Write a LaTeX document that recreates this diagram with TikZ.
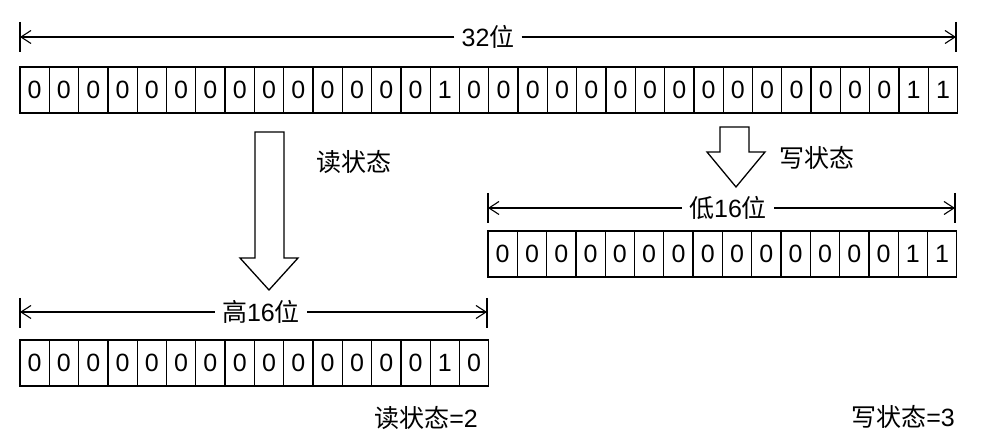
\documentclass[tikz,border=0pt]{standalone}
\usepackage{fontspec}
\setmainfont{Liberation Sans}
\newfontfamily\cjk{Noto Sans CJK SC}
\usetikzlibrary{arrows.meta}
\begin{document}
\begin{tikzpicture}[x=1pt,y=-1pt,
  cell/.style={draw,line width=1.3pt,minimum width=29.3pt,minimum height=46pt,inner sep=0pt,
    font=\fontsize{25}{28}\selectfont},
  lbl/.style={inner sep=7pt,font=\fontsize{25}{28}\selectfont},
  dim/.style={line width=1.1pt,-{Straight Barb[length=10pt,width=13pt,line width=1.1pt]}},
  tick/.style={line width=1.3pt},
  bigarrow/.style={draw,line width=1.3pt,fill=white,line join=miter}]
\useasboundingbox (0,0) rectangle (986,443);
% top row
\foreach \b [count=\i from 0] in {0,0,0,0,0,0,0,0,0,0,0,0,0,0,1,0,0,0,0,0,0,0,0,0,0,0,0,0,0,0,1,1}{
  \pgfmathsetmacro\xx{20+29.3*\i+14.65}
  \node[cell] (a\i) at (\xx,90) {\b};
}
% high row
\foreach \b [count=\i from 0] in {0,0,0,0,0,0,0,0,0,0,0,0,0,0,1,0}{
  \pgfmathsetmacro\xx{20+29.3*\i+14.65}
  \node[cell] (h\i) at (\xx,363) {\b};
}
% low row
\foreach \b [count=\i from 0] in {0,0,0,0,0,0,0,0,0,0,0,0,0,0,1,1}{
  \pgfmathsetmacro\xx{488+29.3*\i+14.65}
  \node[cell] (l\i) at (\xx,254) {\b};
}
% 32 dimension
\coordinate (tL) at (20,37); \coordinate (tR) at (956,37);
\draw[tick] (20,22) -- (20,52);
\draw[tick] (956,22) -- (956,52);
\node[lbl] (t32) at (488,37) {32{\cjk 位}};
\draw[dim] (t32.west) -- (tL);
\draw[dim] (t32.east) -- (tR);
% low 16 dimension
\coordinate (lL) at (488,208); \coordinate (lR) at (955,208);
\draw[tick] (488,193) -- (488,223);
\draw[tick] (955,193) -- (955,223);
\node[lbl] (l16) at (728,208) {{\cjk 低}16{\cjk 位}};
\draw[dim] (l16.west) -- (lL);
\draw[dim] (l16.east) -- (lR);
% high 16 dimension
\coordinate (hL) at (20,312); \coordinate (hR) at (487,312);
\draw[tick] (20,298) -- (20,328);
\draw[tick] (487,298) -- (487,328);
\node[lbl] (h16) at (261,312) {{\cjk 高}16{\cjk 位}};
\draw[dim] (h16.west) -- (hL);
\draw[dim] (h16.east) -- (hR);
% big arrows
\draw[bigarrow] (255,132) -- (284,132) -- (284,258) -- (298,258) -- (269,290) -- (240,258) -- (255,258) -- cycle;
\draw[bigarrow] (720,127) -- (749,127) -- (749,152) -- (765,152) -- (736,187) -- (707,152) -- (720,152) -- cycle;
\node[lbl,anchor=west,inner sep=0pt] (rs) at (316,162) {\cjk 读状态};
\node[lbl,anchor=west,inner sep=0pt] (ws) at (779,158) {\cjk 写状态};
\node[lbl,anchor=east,inner sep=0pt] (rv) at (478,418) {{\cjk 读状态}=2};
\node[lbl,anchor=east,inner sep=0pt] (wv) at (955,417) {{\cjk 写状态}=3};
\end{tikzpicture}
\end{document}
